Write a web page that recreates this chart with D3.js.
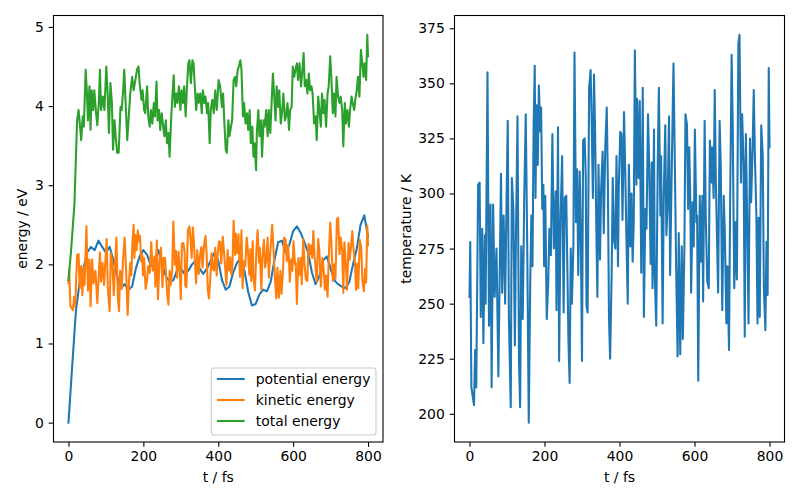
<!DOCTYPE html>
<html>
<head>
<meta charset="utf-8">
<script src="https://cdn.jsdelivr.net/npm/d3@7"></script>
<style>
body { margin: 0; background: #fff; }
svg { display: block; font-family: "DejaVu Sans", sans-serif; }
.tick text { font-size: 13.9px; fill: #000; }
.lbl { font-size: 13.9px; fill: #000; }
</style>
</head>
<body>
<svg id="fig" width="800" height="500"></svg>
<script>

// ---- data ----
var xTicks = [0, 200, 400, 600, 800]
var energyTicks = [0, 1, 2, 3, 4, 5]
var tempTicks = [200, 225, 250, 275, 300, 325, 350, 375]
var seriesNames = ["potential energy", "kinetic energy", "total energy"]
var seriesColours = ["#1f77b4", "#ff7f0e", "#2ca02c"]

// potential energy, every 10 fs
var potentialTime = d3.range(0, 801, 10)
var potential = [0.00, 0.72, 1.42, 1.78, 1.95, 2.15, 2.22, 2.18, 2.30, 2.22,
  2.15, 2.22, 2.05, 1.85, 1.70, 1.75, 1.68, 1.72, 1.95, 2.10,
  2.18, 2.12, 1.98, 2.05, 2.18, 2.00, 1.85, 1.78, 1.80, 1.92,
  1.95, 1.88, 1.92, 2.00, 2.05, 1.95, 1.88, 1.95, 2.05, 2.15,
  2.05, 1.80, 1.68, 1.72, 1.90, 2.02, 2.08, 1.92, 1.65, 1.48,
  1.50, 1.62, 1.68, 1.66, 1.78, 2.05, 2.28, 2.30, 2.15, 2.25,
  2.42, 2.48, 2.40, 2.28, 2.15, 1.90, 1.75, 1.85, 2.05, 2.10,
  1.95, 1.80, 1.75, 1.72, 1.70, 1.78, 2.00, 2.20, 2.50, 2.62, 2.35]

// temperature and kinetic energy share the same sample times
var tempTime = [0, 2, 5, 12, 15, 18, 23, 27, 30, 34,
  37, 41, 43, 48, 52, 56, 59, 63, 67, 72,
  77, 84, 87, 91, 95, 99, 102, 105, 110, 113,
  117, 121, 124, 128, 132, 135, 138, 142, 146, 150,
  154, 158, 162, 165, 168, 171, 174, 176, 179, 182,
  185, 189, 191, 194, 197, 199, 202, 206, 210, 213,
  217, 221, 225, 230, 232, 236, 239, 243, 247, 251,
  254, 258, 264, 267, 270, 273, 277, 280, 284, 287,
  290, 294, 297, 300, 303, 307, 310, 312, 315, 319,
  323, 326, 329, 332, 335, 338, 341, 344, 348, 351,
  355, 358, 362, 366, 369, 372, 375, 379, 382, 386,
  389, 392, 396, 398, 402, 405, 408, 412, 415, 419,
  422, 425, 429, 432, 435, 438, 441, 445, 447, 451,
  454, 458, 462, 465, 469, 472, 476, 479, 483, 486,
  488, 492, 494, 498, 502, 505, 509, 511, 515, 518,
  522, 525, 528, 532, 535, 539, 544, 548, 551, 555,
  558, 562, 566, 569, 573, 576, 580, 583, 586, 589,
  591, 595, 598, 601, 605, 607, 610, 614, 617, 621,
  623, 627, 630, 634, 638, 641, 645, 647, 651, 654,
  657, 661, 663, 667, 670, 674, 678, 681, 685, 688,
  692, 695, 699, 702, 706, 710, 713, 717, 720, 724,
  727, 731, 734, 737, 741, 744, 748, 751, 755, 758,
  761, 765, 768, 771, 774, 778, 782, 785, 789, 792,
  795, 798, 800]

var temperature = [253, 278, 212, 204, 229, 212, 304, 305, 244, 284,
  232, 281, 250, 355, 240, 295, 212, 295, 253, 275,
  217, 309, 255, 290, 250, 299, 333, 244, 203, 307,
  293, 231, 282, 335, 224, 203, 276, 243, 299, 336,
  275, 196, 260, 290, 267, 331, 358, 298, 340, 313,
  349, 328, 339, 293, 304, 267, 299, 243, 260, 284,
  272, 327, 275, 301, 247, 330, 224, 290, 317, 246,
  298, 299, 232, 214, 275, 250, 276, 364, 287, 311,
  263, 310, 278, 224, 324, 325, 308, 249, 246, 348,
  356, 331, 298, 354, 327, 287, 253, 313, 270, 302,
  319, 282, 321, 339, 305, 243, 225, 263, 307, 278,
  275, 317, 267, 302, 328, 327, 288, 337, 313, 275,
  250, 313, 276, 300, 269, 287, 365, 304, 343, 307,
  342, 264, 348, 244, 293, 284, 336, 314, 268, 314,
  257, 329, 263, 240, 314, 348, 290, 317, 241, 298,
  331, 281, 293, 335, 263, 308, 359, 308, 267, 226,
  282, 227, 276, 234, 275, 336, 331, 293, 321, 295,
  255, 296, 276, 329, 287, 290, 215, 299, 269, 299,
  251, 333, 290, 260, 257, 324, 305, 321, 298, 347,
  305, 272, 255, 333, 313, 247, 299, 281, 241, 267,
  229, 295, 363, 330, 257, 287, 261, 368, 372, 305,
  336, 313, 235, 327, 282, 241, 325, 296, 321, 347,
  317, 290, 241, 289, 244, 331, 317, 257, 238, 278,
  254, 357, 321]

var kinetic = [1.76, 1.94, 1.47, 1.42, 1.59, 1.47, 2.12, 2.13, 1.70, 1.98,
  1.61, 1.96, 1.74, 2.48, 1.67, 2.06, 1.47, 2.06, 1.76, 1.92,
  1.51, 2.15, 1.78, 2.02, 1.74, 2.08, 2.32, 1.70, 1.41, 2.14,
  2.04, 1.61, 1.96, 2.34, 1.56, 1.41, 1.92, 1.69, 2.08, 2.34,
  1.92, 1.36, 1.81, 2.02, 1.86, 2.31, 2.50, 2.08, 2.37, 2.18,
  2.43, 2.29, 2.36, 2.04, 2.12, 1.86, 2.08, 1.69, 1.81, 1.98,
  1.89, 2.28, 1.92, 2.10, 1.72, 2.30, 1.56, 2.02, 2.21, 1.71,
  2.08, 2.08, 1.61, 1.49, 1.92, 1.74, 1.92, 2.54, 2.00, 2.17,
  1.83, 2.16, 1.94, 1.56, 2.26, 2.27, 2.15, 1.73, 1.71, 2.43,
  2.48, 2.31, 2.08, 2.47, 2.28, 2.00, 1.76, 2.18, 1.88, 2.10,
  2.22, 1.96, 2.24, 2.36, 2.13, 1.69, 1.57, 1.83, 2.14, 1.94,
  1.92, 2.21, 1.86, 2.10, 2.29, 2.28, 2.01, 2.35, 2.18, 1.92,
  1.74, 2.18, 1.92, 2.09, 1.87, 2.00, 2.55, 2.12, 2.39, 2.14,
  2.38, 1.84, 2.43, 1.70, 2.04, 1.98, 2.34, 2.19, 1.87, 2.19,
  1.79, 2.29, 1.83, 1.67, 2.19, 2.43, 2.02, 2.21, 1.68, 2.08,
  2.31, 1.96, 2.04, 2.34, 1.83, 2.15, 2.50, 2.15, 1.86, 1.57,
  1.96, 1.58, 1.92, 1.63, 1.92, 2.34, 2.31, 2.04, 2.24, 2.06,
  1.78, 2.06, 1.92, 2.29, 2.00, 2.02, 1.50, 2.08, 1.87, 2.08,
  1.75, 2.32, 2.02, 1.81, 1.79, 2.26, 2.13, 2.24, 2.08, 2.42,
  2.13, 1.89, 1.78, 2.32, 2.18, 1.72, 2.08, 1.96, 1.68, 1.86,
  1.59, 2.06, 2.53, 2.30, 1.79, 2.00, 1.82, 2.57, 2.59, 2.13,
  2.34, 2.18, 1.64, 2.28, 1.96, 1.68, 2.27, 2.06, 2.24, 2.42,
  2.21, 2.02, 1.68, 2.01, 1.70, 2.31, 2.21, 1.79, 1.66, 1.94,
  1.77, 2.49, 2.24]

var totalTime = [0, 7, 16, 23, 27, 31, 34, 38, 41, 46,
  49, 52, 56, 59, 62, 66, 69, 73, 77, 81,
  84, 87, 92, 96, 101, 105, 108, 112, 116, 119,
  123, 126, 130, 134, 139, 142, 146, 149, 153, 157,
  161, 165, 170, 174, 180, 183, 187, 190, 195, 198,
  202, 205, 210, 213, 217, 220, 224, 228, 231, 235,
  238, 242, 245, 249, 252, 256, 260, 263, 267, 270,
  274, 277, 281, 284, 288, 291, 295, 299, 302, 306,
  309, 313, 316, 320, 323, 327, 331, 334, 338, 341,
  345, 348, 352, 356, 359, 363, 366, 370, 373, 377,
  380, 384, 388, 392, 396, 401, 405, 410, 413, 416,
  420, 423, 427, 430, 434, 437, 441, 445, 448, 452,
  455, 459, 462, 466, 469, 473, 477, 480, 484, 487,
  491, 494, 497, 501, 503, 507, 510, 514, 517, 521,
  524, 528, 532, 535, 539, 542, 546, 549, 553, 556,
  560, 563, 567, 571, 574, 578, 581, 585, 589, 592,
  596, 599, 603, 606, 610, 613, 617, 621, 624, 628,
  631, 635, 638, 642, 645, 649, 652, 656, 660, 663,
  667, 670, 674, 677, 681, 684, 688, 692, 695, 699,
  702, 706, 709, 713, 716, 720, 724, 727, 731, 734,
  738, 741, 745, 749, 752, 756, 759, 763, 766, 770,
  773, 777, 781, 784, 788, 791, 795, 798, 800]

var total = [1.80, 2.18, 2.77, 3.82, 3.95, 3.74, 3.57, 3.87, 3.74, 4.46,
  4.20, 3.82, 4.25, 3.70, 4.20, 3.95, 4.20, 3.95, 3.76, 4.04,
  4.46, 3.95, 4.12, 3.95, 4.50, 4.12, 3.66, 4.29, 4.04, 3.45,
  3.82, 3.62, 3.41, 3.41, 3.99, 3.95, 4.20, 4.46, 3.99, 3.57,
  3.87, 4.16, 4.37, 4.20, 4.37, 4.46, 4.50, 4.29, 4.08, 4.20,
  3.95, 3.91, 4.25, 3.87, 3.74, 3.95, 3.78, 4.04, 3.87, 4.31,
  3.82, 3.95, 3.70, 3.91, 3.78, 3.62, 3.82, 3.53, 3.66, 3.36,
  3.82, 4.08, 4.39, 3.99, 4.16, 4.04, 4.25, 3.95, 4.20, 4.04,
  4.25, 3.87, 4.20, 4.54, 4.58, 4.29, 4.58, 4.54, 4.20, 3.95,
  4.16, 4.04, 4.16, 3.91, 4.20, 4.04, 4.12, 3.91, 4.04, 3.53,
  3.95, 4.08, 3.91, 4.20, 3.95, 4.33, 4.25, 3.99, 4.16, 3.82,
  3.45, 3.41, 3.82, 3.62, 3.74, 3.82, 4.33, 4.37, 4.25, 4.46,
  4.50, 4.58, 4.46, 3.87, 4.04, 3.78, 3.91, 3.70, 3.95, 3.53,
  3.74, 3.36, 3.53, 3.19, 3.66, 3.95, 3.62, 3.82, 3.36, 3.82,
  3.74, 3.95, 3.62, 3.95, 3.66, 3.99, 4.41, 4.16, 3.82, 4.25,
  3.99, 4.20, 3.78, 3.95, 4.16, 3.82, 3.87, 4.04, 3.70, 3.95,
  3.99, 4.50, 4.37, 4.46, 4.54, 4.33, 4.54, 4.25, 4.41, 4.67,
  4.25, 4.33, 4.16, 4.41, 4.20, 4.25, 4.16, 3.78, 3.87, 3.57,
  4.12, 3.95, 3.74, 4.16, 3.91, 4.08, 3.74, 4.16, 4.25, 4.63,
  4.37, 3.91, 4.16, 3.87, 4.37, 4.12, 4.04, 4.12, 3.95, 3.49,
  4.04, 3.78, 3.95, 3.74, 3.95, 4.12, 4.04, 3.95, 4.08, 4.20,
  4.37, 4.12, 4.71, 4.58, 4.37, 4.54, 4.33, 4.90, 4.63]

// ---- drawing ----
var fs = 13.9          // 10pt at 100 dpi
var tickLen = 4.86
var lineW = 2.08
var plotTop = 15.5, plotBottom = 442

var svg = d3.select("#fig")

function pairs(t, v) {
    return t.map((d, i) => [d, v[i]])
}

function padded(ext) {
    var m = (ext[1] - ext[0]) * 0.05
    return [ext[0] - m, ext[1] + m]
}

function panel(id, left, right, yDomain, yTickVals, ylabel, ylabelX, series) {

    var x = d3.scaleLinear().domain(padded([0, 800])).range([left, right])
    var y = d3.scaleLinear().domain(yDomain).range([plotBottom, plotTop])

    var g = svg.append("g")

    svg.append("clipPath").attr("id", id)
        .append("rect")
        .attr("x", left).attr("y", plotTop)
        .attr("width", right - left).attr("height", plotBottom - plotTop)

    var line = d3.line().x(d => x(d[0])).y(d => y(d[1]))

    g.append("g").attr("clip-path", "url(#" + id + ")")
        .selectAll("path")
        .data(series)
        .enter()
        .append("path")
        .attr("d", d => line(d.points))
        .attr("fill", "none")
        .attr("stroke", d => d.colour)
        .attr("stroke-width", lineW)
        .attr("stroke-linejoin", "round")
        .attr("stroke-linecap", "square")

    var xAxis = g.append("g")
        .attr("transform", "translate(0," + plotBottom + ")")
        .call(d3.axisBottom(x).tickValues(xTicks).tickSize(tickLen).tickPadding(4.3).tickFormat(d3.format("d")))
    var yAxis = g.append("g")
        .attr("transform", "translate(" + left + ",0)")
        .call(d3.axisLeft(y).tickValues(yTickVals).tickSize(tickLen).tickPadding(4.86).tickFormat(d3.format("d")))

    ;[xAxis, yAxis].forEach(a => {
        a.select(".domain").remove()
        a.selectAll(".tick line").attr("stroke", "#000").attr("stroke-width", 1.1)
        a.attr("font-family", null).attr("font-size", null)
    })

    // spines
    g.append("rect")
        .attr("x", left).attr("y", plotTop)
        .attr("width", right - left).attr("height", plotBottom - plotTop)
        .attr("fill", "none").attr("stroke", "#000").attr("stroke-width", 1.1)

    g.append("text")
        .attr("class", "lbl")
        .attr("x", (left + right) / 2).attr("y", 482)
        .attr("text-anchor", "middle")
        .text("t / fs")

    g.append("text")
        .attr("class", "lbl")
        .attr("transform", "translate(" + ylabelX + "," + ((plotTop + plotBottom) / 2) + ") rotate(-90)")
        .attr("text-anchor", "middle")
        .text(ylabel)

    return { x: x, y: y, g: g }
}

var energySeries = [
    { name: seriesNames[0], colour: seriesColours[0], points: pairs(potentialTime, potential) },
    { name: seriesNames[1], colour: seriesColours[1], points: pairs(tempTime, kinetic) },
    { name: seriesNames[2], colour: seriesColours[2], points: pairs(totalTime, total) }
]

var allEnergy = potential.concat(kinetic, total)
var leftPanel = panel("clipL", 53.5, 383, padded(d3.extent(allEnergy)), energyTicks, "energy / eV", 26.5, energySeries)

var tempSeries = [{ name: "temperature", colour: seriesColours[0], points: pairs(tempTime, temperature) }]
panel("clipR", 454.5, 784.5, padded(d3.extent(temperature)), tempTicks, "temperature / K", 410.5, tempSeries)

// legend, lower right of the left panel
var legend = leftPanel.g.append("g")
var legTexts = legend.selectAll("text")
    .data(energySeries)
    .enter()
    .append("text")
    .attr("class", "lbl")
    .attr("y", (d, i) => 379 + i * 21 + 5)
    .text(d => d.name)

var maxW = d3.max(legTexts.nodes(), n => n.getComputedTextLength())
var legRight = 376, legBottom = 435, legTop = 368
var textX = legRight - 5.6 - maxW
var legLeft = textX - 44.5

legTexts.attr("x", textX)

legend.insert("rect", "text")
    .attr("x", legLeft).attr("y", legTop)
    .attr("width", legRight - legLeft).attr("height", legBottom - legTop)
    .attr("rx", 2.8)
    .attr("fill", "#fff").attr("fill-opacity", 0.8)
    .attr("stroke", "#cccccc").attr("stroke-width", 1.1)

legend.selectAll("line")
    .data(energySeries)
    .enter()
    .append("line")
    .attr("x1", legLeft + 5.6).attr("x2", legLeft + 5.6 + 27.8)
    .attr("y1", (d, i) => 379 + i * 21).attr("y2", (d, i) => 379 + i * 21)
    .attr("stroke", d => d.colour)
    .attr("stroke-width", lineW)

</script>
</body>
</html>
